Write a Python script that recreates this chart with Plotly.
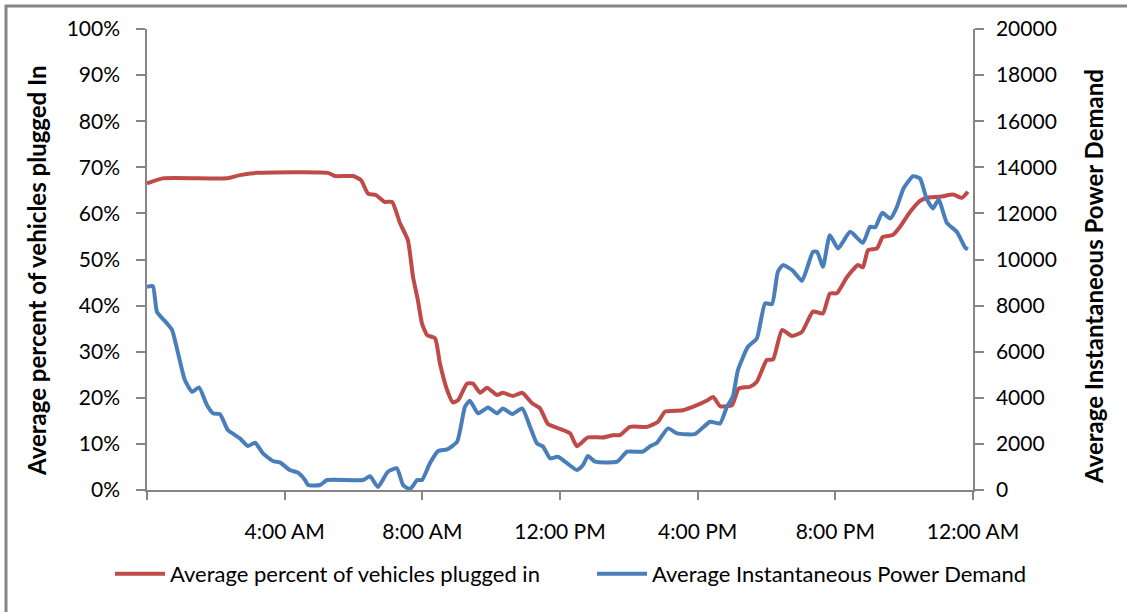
import plotly.graph_objects as go

# Hour of day (0-24) for each reading
plug_hours = [0.0, 0.46, 2.32, 2.70, 3.20, 5.26, 5.46, 5.99, 6.22, 6.42, 6.65, 6.90, 7.12,
              7.35, 7.58, 7.73, 7.87, 7.99, 8.14, 8.37, 8.51, 8.72, 8.89, 9.04, 9.30, 9.47,
              9.68, 9.88, 10.17, 10.34, 10.63, 10.90, 11.19, 11.42, 11.65, 11.94, 12.29,
              12.49, 12.81, 13.25, 13.54, 13.74, 14.03, 14.53, 14.85, 15.05, 15.57, 15.98,
              16.27, 16.45, 16.65, 17.00, 17.19, 17.52, 17.72, 18.01, 18.19, 18.45, 18.74,
              19.03, 19.35, 19.64, 19.84, 20.05, 20.34, 20.66, 20.80, 20.95, 21.21, 21.38,
              21.67, 21.88, 22.17, 22.46, 22.66, 23.04, 23.42, 23.68, 23.85]
# Average percent of vehicles plugged in (%)
plug_pct = [66.5, 67.6, 67.6, 68.3, 68.8, 68.8, 68.1, 68.1, 67.2, 64.3, 64.0, 62.5, 62.5,
            57.9, 54.2, 46.2, 41.2, 36.1, 33.6, 32.9, 27.5, 21.7, 19.0, 19.5, 23.1, 23.1,
            21.1, 22.2, 20.6, 21.1, 20.4, 21.1, 18.8, 17.7, 14.3, 13.4, 12.3,
            9.5, 11.4, 11.4, 11.9, 11.9, 13.7, 13.7, 14.8, 17.0, 17.3, 18.4,
            19.4, 20.2, 18.2, 18.4, 22.0, 22.4, 23.5, 28.2, 28.3, 34.7, 33.4,
            34.3, 38.7, 38.3, 42.6, 42.7, 46.2, 48.8, 48.3, 52.0, 52.4, 54.9,
            55.3, 57.1, 60.3, 62.7, 63.4, 63.6, 64.1, 63.4, 64.7]

power_hours = [0.0, 0.17, 0.29, 0.58, 0.73, 0.87, 1.10, 1.31, 1.51, 1.74, 1.92, 2.12, 2.35,
               2.70, 2.93, 3.14, 3.37, 3.66, 3.86, 4.15, 4.39, 4.59, 4.68, 5.03, 5.23, 6.28,
               6.48, 6.71, 7.00, 7.26, 7.44, 7.64, 7.85, 7.99, 8.22, 8.46, 8.72, 9.01, 9.24,
               9.38, 9.62, 9.91, 10.17, 10.34, 10.61, 10.90, 11.13, 11.33, 11.51, 11.71,
               11.94, 12.49, 12.67, 12.81, 13.02, 13.66, 13.95, 14.41, 14.62, 14.82, 15.14,
               15.40, 15.92, 16.36, 16.65, 16.85, 17.02, 17.17, 17.46, 17.72, 17.96, 18.16,
               18.33, 18.48, 18.77, 19.03, 19.35, 19.47, 19.64, 19.84, 20.08, 20.43, 20.80,
               21.01, 21.16, 21.36, 21.60, 21.79, 21.98, 22.26, 22.46, 22.66, 22.84, 23.00,
               23.24, 23.53, 23.77, 23.85]
# Average instantaneous power demand
power_demand = [8815, 8845, 7731, 7228, 6938, 6144, 4770, 4263, 4453, 3686, 3324, 3295, 2602,
                2240, 1908, 2052, 1590, 1257, 1200, 867, 752, 434, 217, 217, 434, 434,
                600, 130, 794, 940, 217, 30, 434, 434, 1157, 1691, 1763, 2095, 3612,
                3872, 3324, 3584, 3324, 3540, 3295, 3540, 2745, 2023, 1879, 1373,
                1445, 867, 1084, 1474, 1228, 1228, 1662, 1662, 1900, 2052, 2673,
                2457, 2428, 2962, 2890, 3612, 4046, 5203, 6215, 6577, 8095, 8066,
                9466, 9756, 9509, 9075, 10333, 10333, 9682, 11057, 10478, 11200, 10723,
                11417, 11400, 12024, 11780, 12284, 13082, 13615, 13515, 12604, 12213, 12604,
                11590, 11200, 10523, 10437]

tick_hours = [0, 4, 8, 12, 16, 20, 24]
tick_labels = ["", "4:00 AM", "8:00 AM", "12:00 PM", "4:00 PM", "8:00 PM", "12:00 AM"]

RED = "#BE4B48"
BLUE = "#4A7EBB"
AXIS = "#868686"
FONT = "Lato"

fig = go.Figure()
fig.add_trace(go.Scatter(
    x=plug_hours, y=[v / 100 for v in plug_pct],
    name="Average percent of vehicles plugged in",
    mode="lines", line=dict(color=RED, width=4, shape="spline", smoothing=0.5),
    yaxis="y", legend="legend",
))
fig.add_trace(go.Scatter(
    x=power_hours, y=power_demand,
    name="Average Instantaneous Power Demand",
    mode="lines", line=dict(color=BLUE, width=4, shape="spline", smoothing=0.5),
    yaxis="y2", legend="legend2",
))

tick_font = dict(family=FONT, size=21, color="#000000")
legend_style = dict(
    orientation="h", yanchor="middle", y=-(574 - 490) / 461, xanchor="left",
    font=dict(family=FONT, size=22, color="#000000"),
    itemwidth=50, bgcolor="rgba(0,0,0,0)",
)
title_font = dict(family=FONT, size=24, color="#000000")

fig.update_layout(
    width=1127, height=612,
    margin=dict(l=147, r=154, t=29, b=122, autoexpand=False),
    paper_bgcolor="white", plot_bgcolor="white",
    font=dict(family=FONT, color="#000000"),
    showlegend=True,
    xaxis=dict(
        range=[0, 24], tickvals=tick_hours, ticktext=tick_labels,
        showline=True, linecolor=AXIS, linewidth=1.5,
        ticks="outside", ticklen=8, tickcolor=AXIS, tickwidth=1.5,
        showgrid=False, zeroline=False, tickfont=tick_font,
        ticklabelstandoff=14,
    ),
    yaxis=dict(
        range=[0, 1], dtick=0.1, tickformat=".0%",
        showline=True, linecolor=AXIS, linewidth=1.5,
        ticks="outside", ticklen=9, tickcolor=AXIS, tickwidth=1.5,
        showgrid=False, zeroline=False, tickfont=tick_font,
        ticklabelstandoff=12,
    ),
    yaxis2=dict(
        range=[0, 20000], dtick=2000, tickformat="d", overlaying="y", side="right",
        showline=True, linecolor=AXIS, linewidth=1.5,
        ticks="outside", ticklen=9, tickcolor=AXIS, tickwidth=1.5,
        showgrid=False, zeroline=False, tickfont=tick_font,
        ticklabelstandoff=8,
    ),
    legend=dict(legend_style, x=(110 - 147) / 826),
    legend2=dict(legend_style, x=(592 - 147) / 826),
    annotations=[
        dict(text="<b>Average percent of vehicles plugged In</b>", textangle=-90,
             xref="paper", yref="paper", x=(36 - 147) / 826, y=(490 - 271) / 461,
             xanchor="center", yanchor="middle", showarrow=False, font=title_font),
        dict(text="<b>Average Instantaneous Power Demand</b>", textangle=-90,
             xref="paper", yref="paper", x=(1093 - 147) / 826, y=(490 - 277) / 461,
             xanchor="center", yanchor="middle", showarrow=False, font=title_font),
    ],
    shapes=[
        dict(type="rect", xref="paper", yref="paper",
             x0=(6 - 147) / 826, x1=(1135 - 147) / 826,
             y0=(490 - 620) / 461, y1=(490 - 6) / 461,
             line=dict(color=AXIS, width=3), fillcolor="rgba(0,0,0,0)", layer="below"),
    ],
)

fig.write_html("out.html")
